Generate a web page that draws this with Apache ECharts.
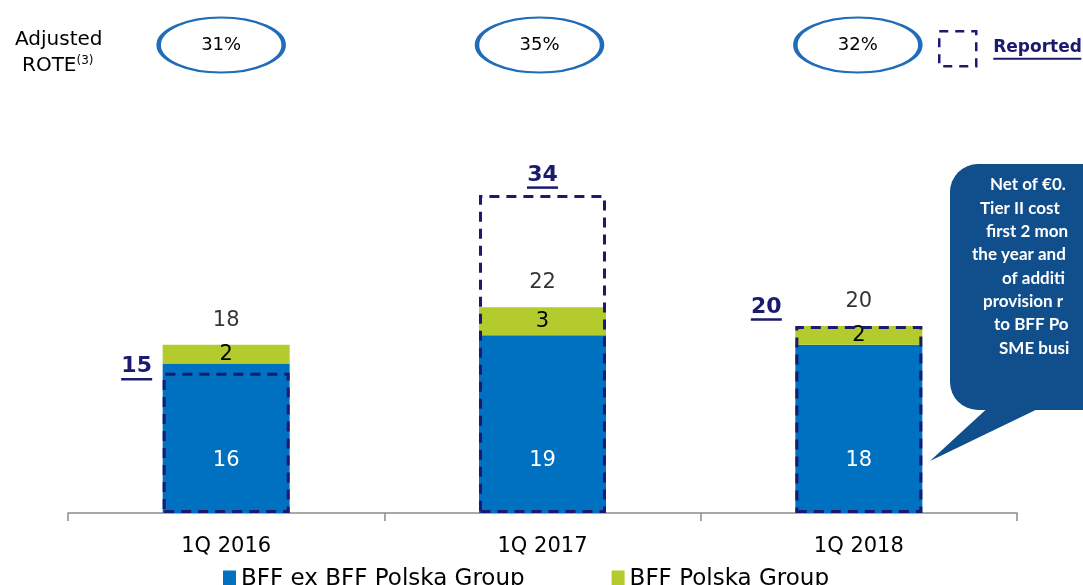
<!DOCTYPE html>
<html>
<head>
<meta charset="utf-8">
<title>Adjusted net income</title>
<script src="https://cdn.jsdelivr.net/npm/echarts@6/dist/echarts.min.js"></script>
<style>
  html, body { margin: 0; padding: 0; background: #fff; }
  #chart { width: 1083px; height: 585px; }
</style>
</head>
<body>
<div id="chart"></div>
<script>
// values
const categories = ["1Q 2016", "1Q 2017", "1Q 2018"];
const exPolska = [16, 19, 18];
const polska = [2, 3, 2];
const totals = [18, 22, 20];
const reported = [15, 34, 20];
const rote = [31, 35, 32];

const FONT = "'DejaVu Sans', Verdana, sans-serif";
const NAVY = "#1a1a6e";
const BLUE = "#0070c0";
const GREEN = "#b3cb2d";

// reported labels sit left of the box on 2016 / 2018, on top for 2017
const reportedLabelPos = [
  { position: "insideTopLeft", offset: [-32, 2] },
  { position: "top" },
  { position: "insideTopLeft", offset: [-35, -11] }
];

const chart = echarts.init(document.getElementById("chart"));

chart.setOption({
  animation: false,
  textStyle: { fontFamily: FONT },
  grid: [
    { left: 68, right: 66, top: 139, bottom: 72 },
    { left: 62, right: 66, top: 17, height: 56 }
  ],
  xAxis: [
    {
      gridIndex: 0,
      type: "category",
      data: categories,
      axisLine: { show: true, lineStyle: { color: "#8c8c8c", width: 1.5 } },
      axisTick: { show: true, length: 8, lineStyle: { color: "#8c8c8c", width: 1.5 } },
      axisLabel: { fontSize: 21, color: "#000", margin: 23, fontFamily: FONT }
    },
    { gridIndex: 1, type: "category", data: categories, show: false }
  ],
  yAxis: [
    { gridIndex: 0, type: "value", min: 0, max: 40, show: false },
    { gridIndex: 1, type: "value", min: -1, max: 1, show: false }
  ],
  legend: [
    {
      selectedMode: false,
      data: ["BFF ex BFF Polska Group", "BFF Polska Group"],
      left: 218,
      top: 563,
      icon: "rect",
      itemWidth: 13,
      itemHeight: 18,
      itemGap: 87,
      textStyle: { fontSize: 23, color: "#000", fontFamily: FONT }
    },
    {
      selectedMode: false,
      data: ["Reported"],
      left: 933,
      top: 25,
      icon: "rect",
      itemWidth: 37,
      itemHeight: 35,
      itemStyle: {
        color: "rgba(0,0,0,0)",
        borderColor: NAVY,
        borderWidth: 2.5,
        borderType: [9, 7]
      },
      formatter: name => "{n|" + name + "}\n{u| }",
      textStyle: {
        padding: [0, 0, 0, 12],
        rich: {
          n: { fontSize: 17, fontWeight: "bold", color: NAVY, fontFamily: FONT, lineHeight: 20 },
          u: { width: 88, height: 2, backgroundColor: NAVY, lineHeight: 3 }
        }
      }
    }
  ],
  graphic: [
    {
      type: "text",
      left: 15,
      top: 30,
      style: { text: "Adjusted", font: "20px " + FONT, fill: "#000" }
    },
    {
      type: "text",
      left: 22,
      top: 55,
      style: {
        text: "{a|ROTE}{s|(3)}",
        rich: {
          a: { fontSize: 20, fontFamily: FONT, fill: "#000", verticalAlign: "bottom" },
          s: { fontSize: 12, fontFamily: FONT, fill: "#000", verticalAlign: "top", padding: [0, 0, 9, 0] }
        }
      }
    },
    {
      type: "group",
      children: [
        {
          type: "rect",
          shape: { x: 950, y: 164, width: 200, height: 246, r: 28 },
          style: { fill: "#104e8c" }
        },
        {
          type: "polygon",
          shape: { points: [[992, 404], [1048, 404], [930, 461]] },
          style: { fill: "#104e8c" }
        },
        ...[
          ["Net of €0.", 990],
          ["Tier II cost", 980],
          ["first 2 mon", 986],
          ["the year and", 972],
          ["of additi", 1002],
          ["provision r", 983],
          ["to BFF Po", 994],
          ["SME busi", 999]
        ].map((l, i) => ({
          type: "text",
          x: l[1],
          y: 185 + i * 23.3,
          style: {
            text: l[0],
            font: "bold 17px Lato, 'Open Sans', sans-serif",
            fill: "#fff",
            textVerticalAlign: "middle"
          }
        }))
      ]
    }
  ],
  series: [
    {
      name: "BFF ex BFF Polska Group",
      type: "bar",
      stack: "adj",
      barWidth: 127,
      barGap: "-100%",
      itemStyle: { color: BLUE },
      label: { show: true, position: "insideBottom", distance: 42, color: "#fff", fontSize: 21, fontFamily: FONT },
      data: exPolska
    },
    {
      name: "BFF Polska Group",
      type: "bar",
      stack: "adj",
      barWidth: 127,
      barGap: "-100%",
      itemStyle: { color: GREEN },
      label: { show: true, position: "inside", color: "#000", fontSize: 21, fontFamily: FONT },
      data: polska
    },
    {
      name: "Reported",
      type: "bar",
      barWidth: 127,
      barGap: "-100%",
      z: 5,
      itemStyle: {
        color: "rgba(0,0,0,0)",
        borderColor: NAVY,
        borderWidth: 3,
        borderType: [10, 7]
      },
      label: {
        show: true,
        distance: 6,
        align: "center",
        verticalAlign: "bottom",
        formatter: p => "{n|" + p.value + "}\n{u| }",
        rich: {
          n: { fontSize: 22, fontWeight: "bold", color: NAVY, fontFamily: FONT, lineHeight: 22, align: "center" },
          u: { width: 31, height: 2.5, backgroundColor: NAVY, lineHeight: 3, align: "center" }
        }
      },
      data: reported.map((v, i) => ({ value: v, label: reportedLabelPos[i] }))
    },
    {
      name: "Total",
      type: "scatter",
      symbolSize: 0,
      label: {
        show: true,
        position: "top",
        distance: 14,
        color: "#000",
        fontSize: 21,
        fontFamily: FONT
      },
      data: totals
    },
    {
      name: "ROTE",
      type: "scatter",
      xAxisIndex: 1,
      yAxisIndex: 1,
      symbol: "circle",
      symbolSize: [125, 55],
      itemStyle: { color: "#fff", borderColor: "#1f6cb9", borderWidth: 3, opacity: 1 },
      label: {
        show: true,
        position: "inside",
        color: "#000",
        fontSize: 18,
        fontFamily: FONT,
        formatter: p => p.value[2] + "%"
      },
      data: rote.map((v, i) => [i, 0, v])
    }
  ]
});
</script>
</body>
</html>
